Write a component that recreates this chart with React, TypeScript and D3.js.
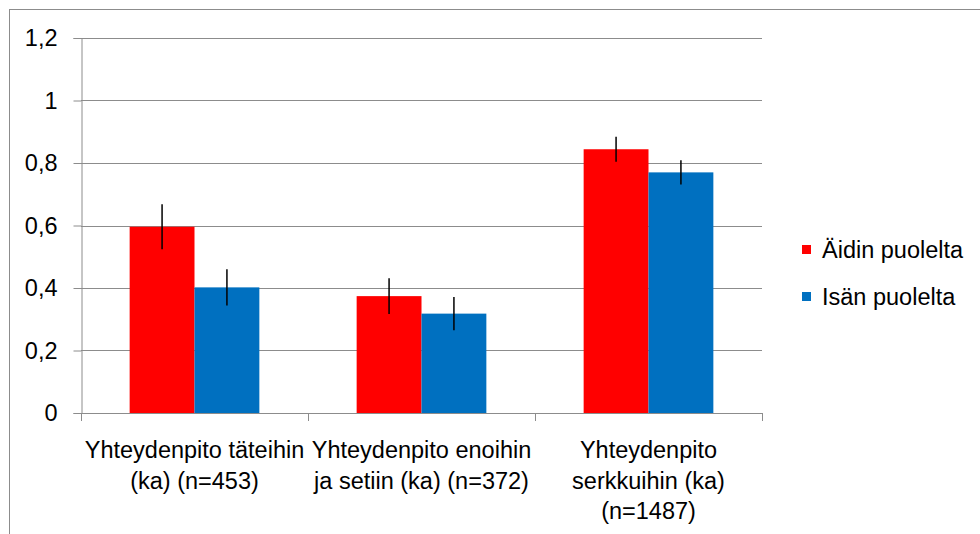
import React, { useEffect, useRef } from 'react';
import * as d3 from 'd3';

const categories = ['täteihin', 'enoihin', 'serkkuihin'];
const categoryLines = [
  ['Yhteydenpito täteihin', '(ka) (n=453)'],
  ['Yhteydenpito enoihin', 'ja setiin (ka) (n=372)'],
  ['Yhteydenpito', 'serkkuihin (ka)', '(n=1487)'],
];
const seriesNames = ['Äidin puolelta', 'Isän puolelta'];
const seriesColors = ['#ff0000', '#0070c0'];
const motherValues = [0.596, 0.374, 0.844];
const fatherValues = [0.402, 0.318, 0.770];
const motherErr = [0.072, 0.057, 0.04];
const fatherErr = [0.058, 0.053, 0.039];
const yTicks = [0, 0.2, 0.4, 0.6, 0.8, 1, 1.2];

const FONT = '"Liberation Sans", Arial, sans-serif';
const FS = 23.5;

export default function App() {
  const ref = useRef<SVGSVGElement>(null);

  useEffect(() => {
    document.body.style.margin = '0';
    const svg = d3.select(ref.current);
    svg.selectAll('*').remove();

    const left = 81, right = 762, top = 38, bottom = 413;

    // outer frame
    svg.append('rect').attr('x', 9.5).attr('y', 9.5).attr('width', 980).attr('height', 600)
      .attr('fill', 'white').attr('stroke', '#8c8c8c').attr('stroke-width', 1);

    const y = d3.scaleLinear().domain([0, 1.2]).range([bottom, top]);
    const x0 = d3.scaleBand().domain(categories).range([left, right]).paddingInner(0).paddingOuter(0);
    const bw = x0.bandwidth() / 3.5;

    const g = svg.append('g');

    // gridlines
    g.selectAll('.grid').data(yTicks.filter(d => d > 0)).join('line').attr('class', 'grid')
      .attr('x1', left).attr('x2', right)
      .attr('y1', d => Math.round(y(d)) + 0.5).attr('y2', d => Math.round(y(d)) + 0.5)
      .attr('stroke', '#8c8c8c').attr('stroke-width', 1);

    // y axis
    const yAxis = g.append('g').attr('transform', `translate(${left + 0.5},0)`)
      .call(d3.axisLeft(y).tickValues(yTicks).tickSize(8).tickPadding(16)
        .tickFormat(d => String(d).replace('.', ',')));
    yAxis.select('.domain').attr('stroke', '#8c8c8c');
    yAxis.selectAll('.tick line').attr('stroke', '#8c8c8c');
    yAxis.selectAll('.tick text').attr('font-family', FONT).attr('font-size', FS).attr('fill', '#000');

    // x axis
    const xAxisG = g.append('g');
    xAxisG.append('line').attr('x1', left).attr('x2', right)
      .attr('y1', Math.round(bottom) + 0.5).attr('y2', Math.round(bottom) + 0.5)
      .attr('stroke', '#8c8c8c');
    const bounds = categories.map(c => x0(c) as number).concat([right]);
    xAxisG.selectAll('.xt').data(bounds).join('line').attr('class', 'xt')
      .attr('x1', d => Math.round(d) + 0.5).attr('x2', d => Math.round(d) + 0.5)
      .attr('y1', bottom).attr('y2', bottom + 8).attr('stroke', '#8c8c8c');

    const labels = xAxisG.selectAll('.xl').data(categories).join('text').attr('class', 'xl')
      .attr('text-anchor', 'middle').attr('font-family', FONT).attr('font-size', FS).attr('fill', '#000');
    labels.each(function (c, i) {
      const cx = (x0(c) as number) + x0.bandwidth() / 2;
      d3.select(this).selectAll('tspan').data(categoryLines[i]).join('tspan')
        .attr('x', cx).attr('y', (d, j) => 458 + j * 30.7).text(d => d);
    });

    const series = [
      { vals: motherValues, err: motherErr, off: -1 },
      { vals: fatherValues, err: fatherErr, off: 0 },
    ];
    series.forEach((s, si) => {
      const bars = categories.map((c, i) => ({ c, v: s.vals[i], e: s.err[i] }));
      const bx = (c: string) => (x0(c) as number) + x0.bandwidth() / 2 + s.off * bw;
      g.selectAll(`.bar${si}`).data(bars).join('rect').attr('class', `bar${si}`)
        .attr('x', d => bx(d.c)).attr('width', bw)
        .attr('y', d => y(d.v)).attr('height', d => y(0) - y(d.v))
        .attr('fill', seriesColors[si]);
      g.selectAll(`.err${si}`).data(bars).join('line').attr('class', `err${si}`)
        .attr('x1', d => bx(d.c) + bw / 2).attr('x2', d => bx(d.c) + bw / 2)
        .attr('y1', d => y(d.v + d.e)).attr('y2', d => y(d.v - d.e))
        .attr('stroke', '#000').attr('stroke-width', 1.5);
    });

    // legend
    const legend = svg.append('g');
    seriesNames.forEach((name, i) => {
      const ly = 251 + i * 47;
      legend.append('rect').attr('x', 802).attr('y', ly - 6).attr('width', 9).attr('height', 9)
        .attr('fill', seriesColors[i]);
      legend.append('text').attr('x', 822).attr('y', ly + 7).attr('font-family', FONT)
        .attr('font-size', FS).attr('fill', '#000').text(name);
    });
  }, []);

  return <svg ref={ref} width={980} height={534} style={{ display: 'block' }} />;
}
